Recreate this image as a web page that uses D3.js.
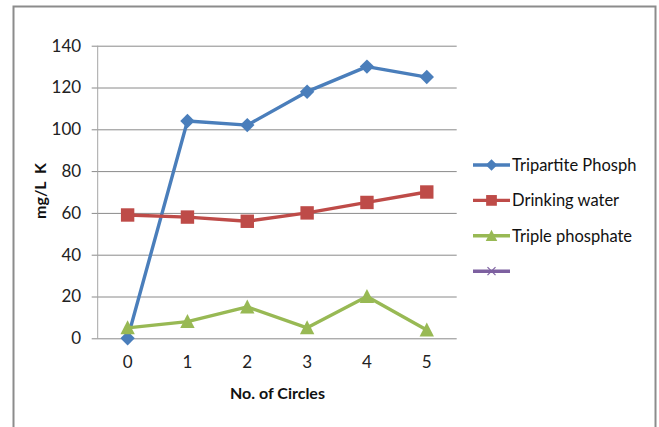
<!DOCTYPE html>
<html>
<head>
<meta charset="utf-8">
<script src="https://cdn.jsdelivr.net/npm/d3@7/dist/d3.min.js"></script>
<style>
  html, body { margin: 0; padding: 0; background: #fff; }
  svg { display: block; font-family: Lato, "Liberation Sans", sans-serif; }
</style>
</head>
<body>
<svg id="chart" width="659" height="427"></svg>
<script>
// Data
const circles = ["0", "1", "2", "3", "4", "5"];
const tripartitePhosph = [0, 104, 102, 118, 130, 125];
const drinkingWater = [59, 58, 56, 60, 65, 70];
const triplePhosphate = [5, 8, 15, 5, 20, 4];
const yTicks = [0, 20, 40, 60, 80, 100, 120, 140];
const seriesNames = ["Tripartite Phosph", "Drinking water", "Triple phosphate", ""];

const series = [
  { name: seriesNames[0], values: tripartitePhosph, color: "#4a7ebb", marker: "diamond" },
  { name: seriesNames[1], values: drinkingWater, color: "#be4b48", marker: "square" },
  { name: seriesNames[2], values: triplePhosphate, color: "#98b954", marker: "triangle" },
  { name: seriesNames[3], values: null, color: "#7d60a0", marker: "cross" }
];

const svg = d3.select("#chart");

// Outer chart frame
svg.append("rect")
  .attr("x", 13.5).attr("y", 6.5)
  .attr("width", 642).attr("height", 440)
  .attr("fill", "#fff")
  .attr("stroke", "#8c8c8c").attr("stroke-width", 2);

const plot = { left: 97.7, right: 456.7, top: 45.7, bottom: 338.3 };

const x = d3.scaleBand().domain(circles).range([plot.left, plot.right]);
const y = d3.scaleLinear().domain([0, 140]).range([plot.bottom, plot.top]);

// Horizontal gridlines with left tick stubs
const yAxis = d3.axisLeft(y).tickValues(yTicks).tickSize(-(plot.right - plot.left)).tickPadding(16.5);
const gy = svg.append("g").attr("transform", `translate(${plot.left},0)`).call(yAxis);
gy.select(".domain").remove();
gy.selectAll(".tick line")
  .attr("x1", -6)
  .attr("stroke", "#8a8a8a").attr("stroke-width", 1);
gy.selectAll(".tick text")
  .attr("font-size", 17).attr("fill", "#222")
  .attr("font-family", "Lato, sans-serif");

// Vertical axis line
svg.append("line")
  .attr("x1", plot.left).attr("x2", plot.left)
  .attr("y1", plot.top).attr("y2", plot.bottom)
  .attr("stroke", "#a6a6a6").attr("stroke-width", 1);

// Category labels
const xAxis = d3.axisBottom(x).tickSize(0).tickPadding(18);
const gx = svg.append("g").attr("transform", `translate(0,${plot.bottom})`).call(xAxis);
gx.select(".domain").remove();
gx.selectAll(".tick text")
  .attr("font-size", 17).attr("fill", "#222")
  .attr("font-family", "Lato, sans-serif");

// Axis titles
svg.append("text")
  .attr("transform", "translate(45.5,191) rotate(-90)")
  .attr("text-anchor", "middle")
  .attr("font-size", 16).attr("font-weight", "bold").attr("fill", "#111")
  .attr("xml:space", "preserve")
  .text("mg/L  K");

svg.append("text")
  .attr("x", 277.5).attr("y", 399)
  .attr("text-anchor", "middle")
  .attr("font-size", 16).attr("font-weight", "bold").attr("fill", "#111")
  .text("No. of Circles");

// Marker shapes
function drawMarker(g, type, cx, cy, color, scale) {
  const s = scale || 1;
  if (type === "diamond") {
    const r = 7.2 * s;
    g.append("path")
      .attr("d", `M${cx},${cy - r}L${cx + r},${cy}L${cx},${cy + r}L${cx - r},${cy}Z`)
      .attr("fill", color);
  } else if (type === "square") {
    const h = 6.7 * s;
    g.append("rect")
      .attr("x", cx - h).attr("y", cy - h)
      .attr("width", 2 * h).attr("height", 2 * h)
      .attr("fill", color);
  } else if (type === "triangle") {
    const h = 7.2 * s;
    g.append("path")
      .attr("d", `M${cx},${cy - h * 1.05}L${cx + h},${cy + h * 0.9}L${cx - h},${cy + h * 0.9}Z`)
      .attr("fill", color);
  } else if (type === "cross") {
    const h = 5 * s;
    g.append("path")
      .attr("d", `M${cx - h},${cy - h}L${cx + h},${cy + h}M${cx - h},${cy + h}L${cx + h},${cy - h}`)
      .attr("stroke", color).attr("stroke-width", 1.2).attr("fill", "none");
  }
}

const line = d3.line()
  .x((d, i) => x(circles[i]) + x.bandwidth() / 2)
  .y(d => y(d));

// Series lines and markers
series.filter(s => s.values).forEach(s => {
  const g = svg.append("g");
  g.append("path")
    .datum(s.values)
    .attr("d", line)
    .attr("fill", "none")
    .attr("stroke", s.color)
    .attr("stroke-width", 3.4)
    .attr("stroke-linejoin", "round");
  s.values.forEach((v, i) => {
    drawMarker(g, s.marker, x(circles[i]) + x.bandwidth() / 2, y(v), s.color);
  });
});

// Legend
const legend = svg.append("g");
const legendY0 = 165, legendStep = 35.4;
series.forEach((s, i) => {
  const ly = legendY0 + i * legendStep;
  legend.append("line")
    .attr("x1", 473).attr("x2", 510)
    .attr("y1", ly).attr("y2", ly)
    .attr("stroke", s.color).attr("stroke-width", 3.4);
  drawMarker(legend, s.marker, 491.5, ly, s.color, 0.8);
  legend.append("text")
    .attr("x", 512).attr("y", ly)
    .attr("dy", "0.35em")
    .attr("font-size", 16.5).attr("fill", "#111")
    .text(s.name);
});
</script>
</body>
</html>
